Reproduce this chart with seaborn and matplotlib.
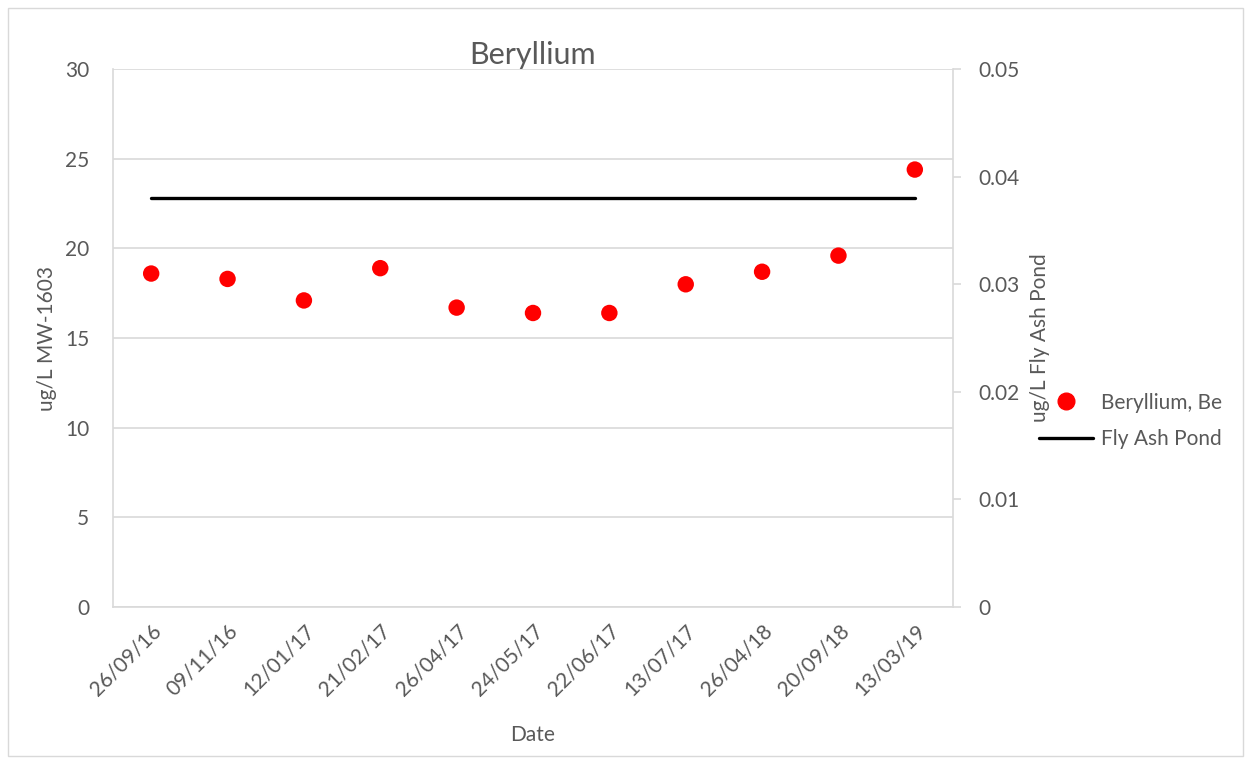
import matplotlib
matplotlib.use('Agg')

import seaborn as sns
import numpy as np
import pandas as pd
import matplotlib.pyplot as plt
from matplotlib.lines import Line2D
from matplotlib.patches import Rectangle

dates = ['26/09/16', '09/11/16', '12/01/17', '21/02/17', '26/04/17', '24/05/17',
         '22/06/17', '13/07/17', '26/04/18', '20/09/18', '13/03/19']
beryllium = [18.6, 18.3, 17.1, 18.9, 16.7, 16.4, 16.4, 18.0, 18.7, 19.6, 24.4]
fly_ash = [0.038] * len(dates)

GRAY = '#595959'
GRID = '#d9d9d9'

sns.set_theme(style="white")
plt.rcParams['font.family'] = ['Lato', 'DejaVu Sans']

df = pd.DataFrame({'Date': dates, 'Be': beryllium, 'Pond': fly_ash})

fig = plt.figure(figsize=(12.5, 7.6), dpi=100)
ax = fig.add_axes([0.0904, 0.2013, 0.672, 0.7077])
ax2 = ax.twinx()

sns.scatterplot(data=df, x='Date', y='Be', ax=ax, color='#ff0000', s=140,
                edgecolor='none', zorder=3, legend=False)
sns.lineplot(data=df, x='Date', y='Pond', ax=ax2, color='black', linewidth=2.4,
             legend=False)

ax.set_xlim(-0.5, len(dates) - 0.5)
ax.set_ylim(0, 30)
ax.set_yticks(np.arange(0, 31, 5))
ax2.set_ylim(0, 0.05)
ax2.set_yticks([0, 0.01, 0.02, 0.03, 0.04, 0.05])
ax2.set_yticklabels(['0', '0.01', '0.02', '0.03', '0.04', '0.05'])

ax.yaxis.grid(True, color=GRID, linewidth=1.2)
ax.set_axisbelow(True)

for a in (ax, ax2):
    a.spines['top'].set_visible(False)
    for sp in a.spines.values():
        sp.set_color(GRID)
        sp.set_linewidth(1.2)
ax.spines['right'].set_visible(False)
ax2.spines['left'].set_visible(False)
ax2.spines['bottom'].set_visible(False)

ax.tick_params(axis='y', length=0, labelsize=15, labelcolor=GRAY, pad=17)
ax.tick_params(axis='x', length=0, labelsize=15, labelcolor=GRAY, pad=10)
ax2.tick_params(axis='y', length=6, width=1.2, color=GRID, direction='out',
                labelsize=15, labelcolor=GRAY, pad=12)
plt.setp(ax.get_xticklabels(), rotation=45, ha='right', rotation_mode='anchor')

ax.set_xlabel('Date', fontsize=15, color=GRAY, labelpad=18)
ax.set_ylabel('ug/L MW-1603', fontsize=15, color=GRAY, labelpad=6)
ax2.set_ylabel('ug/L Fly Ash Pond', fontsize=15, color=GRAY, labelpad=8)
ax.set_title('Beryllium', fontsize=22, color=GRAY, pad=2)

handles = [Line2D([], [], marker='o', linestyle='none', color='#ff0000', markersize=12),
           Line2D([], [], color='black', linewidth=2.4)]
fig.legend(handles, ['Beryllium, Be', 'Fly Ash Pond'], loc='center left',
           bbox_to_anchor=(0.816, 0.446), frameon=False, fontsize=15,
           labelcolor=GRAY, handlelength=2.6, handletextpad=0.4, labelspacing=0.8)

fig.patches.append(Rectangle((0.006, 0.005), 0.988, 0.985, transform=fig.transFigure,
                             fill=False, edgecolor=GRID, linewidth=1))

fig.savefig('out.png', dpi=100)
